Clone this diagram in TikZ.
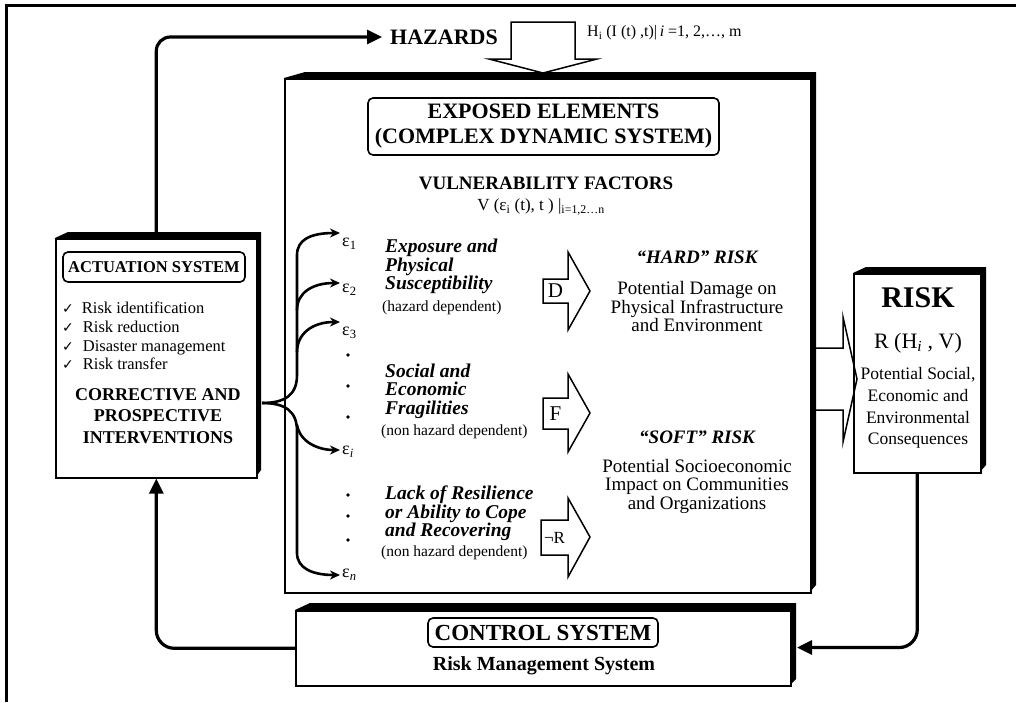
\documentclass[tikz,border=0pt]{standalone}
\usepackage{fontspec}
\setmainfont{Liberation Serif}
\newfontfamily\symfont{DejaVu Sans}
\usetikzlibrary{arrows.meta}
\newcommand\fsz[2]{\fontsize{#1}{#2}\selectfont}
\begin{document}
\begin{tikzpicture}[x=1pt,y=-1pt,
  conn/.style={line width=3.2pt,-{Triangle[length=15pt,width=14pt]}},
  econn/.style={line width=2.6pt,-{Stealth[length=10pt,width=9pt]}},
  band/.style={fill=black},
  boxline/.style={draw,line width=1.6pt,inner sep=0pt,anchor=north west},
  hollow/.style={draw,line width=1.5pt,fill=white,line join=miter},
  rbox/.style={draw,line width=1.6pt,rounded corners=5pt,inner sep=3pt},
  dotn/.style={circle,fill,inner sep=1.3pt},
  txt/.style={inner sep=0pt},
]
\path[use as bounding box] (0,0) rectangle (1016,702);
% outer frame (top and left)
\draw[line width=3pt] (6,702) -- (6,5) -- (1016,5);

% ---------- central box ----------
\path[band] (284,78) -- (305,72) -- (816,72) -- (816,585) -- (810,592) -- (810,78) -- cycle;
\node[boxline,minimum width=526pt,minimum height=514pt] (central) at (284,78) {};

% ---------- actuation box ----------
\path[band] (55,238) -- (68,232) -- (261,232) -- (261,470) -- (256,477) -- (256,238) -- cycle;
\node[boxline,minimum width=201pt,minimum height=239pt] (act) at (55,238) {};

% ---------- risk box ----------
\path[band] (853,273) -- (866,267) -- (986,267) -- (986,465) -- (980,472) -- (980,273) -- cycle;
\node[boxline,minimum width=127pt,minimum height=199pt] (risk) at (853,273) {};

% ---------- control box ----------
\path[band] (295,610) -- (310,603) -- (796,603) -- (796,679) -- (790,685) -- (790,610) -- cycle;
\node[boxline,minimum width=495pt,minimum height=75pt] (ctrl) at (295,610) {};
\coordinate (ctrlE) at (797,647.5);

% ---------- hazards ----------
\node[txt,font=\fsz{22}{24}\bfseries] (haz) at (444,37) {HAZARDS};
\draw[hollow] (511,22) -- (575,22) -- (575,59) -- (597,59) -- (543,73) -- (489,59) -- (511,59) -- cycle;
\node[txt,anchor=west,font=\fsz{16}{18}] (hform) at (587,33) {H\textsubscript{i} (I (t) ,t)|\,\textit{i} =1, 2,…, m};

% ---------- loops ----------
\draw[conn,rounded corners=14pt,shorten >=8pt] (act.north) |- (haz.west);
\draw[conn,rounded corners=18pt] (ctrl.west) -| (act.south);
\draw[conn,rounded corners=18pt] (risk.south) |- (ctrlE);

% ---------- central contents ----------
\node[rbox,minimum width=351pt,minimum height=57pt,align=center,font=\fsz{22}{25}\bfseries] (exposed) at (543.5,126.5) {EXPOSED ELEMENTS\\(COMPLEX DYNAMIC SYSTEM)};
\node[txt,font=\fsz{19}{20}\bfseries] (vf) at (546,183) {VULNERABILITY FACTORS};
\node[txt,font=\fsz{17}{19}] (vform) at (541,207) {V (ε\textsubscript{i} (t), t ) |\textsubscript{i=1,2…n}};

% epsilon labels
\node[txt,anchor=west,font=\fsz{18}{19}] (e1) at (342,244) {ε\textsubscript{1}};
\node[txt,anchor=west,font=\fsz{18}{19}] (e2) at (342,290) {ε\textsubscript{2}};
\node[txt,anchor=west,font=\fsz{18}{19}] (e3) at (342,333) {ε\textsubscript{3}};
\node[txt,anchor=west,font=\fsz{18}{19}] (ei) at (342,452) {ε\textsubscript{\itshape i}};
\node[txt,anchor=west,font=\fsz{18}{19}] (en) at (342,575) {ε\textsubscript{\itshape n}};
\node[dotn] (d1) at (348,355) {};
\node[dotn] (d2) at (348,386) {};
\node[dotn] (d3) at (348,417) {};
\node[dotn] (d4) at (348,495) {};
\node[dotn] (d5) at (348,516) {};
\node[dotn] (d6) at (348,540) {};
\coordinate (t1) at (340,233);
\coordinate (t2) at (340,283);
\coordinate (t3) at (340,322);
\coordinate (ti) at (340,450);
\coordinate (tn) at (340,575);
\coordinate (src) at (262,403);

% brace of arrows
\draw[econn] (src) .. controls (285,403) and (297,395) .. (297,375) -- (297,255) .. controls (297,240) and (310,233) .. (t1);
\draw[econn] (297,310) .. controls (297,293) and (312,283) .. (t2);
\draw[econn] (297,352) .. controls (297,334) and (312,322) .. (t3);
\draw[econn] (src) .. controls (285,403) and (297,411) .. (297,431) -- (297,553) .. controls (297,568) and (312,575) .. (tn);
\draw[econn] (297,425) .. controls (300,442) and (318,450) .. (ti);

% factor texts
\node[txt,anchor=west,align=left,font=\fsz{19.5}{18.5}\bfseries\itshape] (g1) at (385,266.5) {Exposure and\\Physical\\Susceptibility};
\node[txt,anchor=west,font=\fsz{15.5}{17}] (h1) at (382,308) {(hazard dependent)};
\node[txt,anchor=west,align=left,font=\fsz{19.5}{18.5}\bfseries\itshape] (g2) at (385,391) {Social and\\Economic\\Fragilities};
\node[txt,anchor=west,font=\fsz{15.5}{17}] (h2) at (381,432) {(non hazard dependent)};
\node[txt,anchor=west,align=left,font=\fsz{19.5}{18.5}\bfseries\itshape] (g3) at (385,513.5) {Lack of Resilience\\or Ability to Cope\\and Recovering};
\node[txt,anchor=west,font=\fsz{15.5}{17}] (h3) at (381,553) {(non hazard dependent)};

% block arrows
\draw[hollow] (543,279) -- (568,279) -- (568,252) -- (590,291) -- (568,330) -- (568,303) -- (543,303) -- cycle;
\node[txt,font=\fsz{21}{21}] (dl) at (555.5,291) {D};
\draw[hollow] (543,398) -- (568,398) -- (568,374) -- (590,413) -- (568,452) -- (568,429) -- (543,429) -- cycle;
\node[txt,font=\fsz{21}{21}] (fl) at (555.5,413.5) {F};
\draw[hollow] (541,520) -- (568,520) -- (568,498) -- (590,537) -- (568,577) -- (568,555) -- (541,555) -- cycle;
\node[txt,font=\fsz{17}{20}] (rl) at (554.5,537.5) {¬R};

% risk texts
\node[txt,font=\fsz{19}{20}\bfseries\itshape] (hard) at (697,257) {“HARD” RISK};
\node[txt,align=center,font=\fsz{19}{18.5}] (hardt) at (697,306.5) {Potential Damage on\\Physical Infrastructure\\and Environment};
\node[txt,font=\fsz{19}{20}\bfseries\itshape] (soft) at (697,437) {“SOFT” RISK};
\node[txt,align=center,font=\fsz{19}{18.5}] (softt) at (697,486) {Potential Socioeconomic\\Impact on Communities\\and Organizations};

% arrow to risk
\draw[line width=1.5pt,line join=miter] (central.east |- 0,348) -- (843,348) -- (843,317) -- (857,379) -- (843,442) -- (843,410) -- (central.east |- 0,410);

% ---------- risk box contents ----------
\node[txt,font=\fsz{30}{32}\bfseries] (risktitle) at (918,298) {RISK};
\node[txt,font=\fsz{22}{24}] (rform) at (918,343) {R (H\textsubscript{\itshape i} , V)};
\node[txt,align=center,font=\fsz{17.5}{21.7}] (cons) at (918,408) {Potential Social,\\Economic and\\Environmental\\Consequences};

% ---------- actuation contents ----------
\node[rbox,minimum width=182pt,minimum height=30pt,font=\fsz{16.5}{18}\bfseries] (actlabel) at (154,267) {ACTUATION SYSTEM};
\node[txt,anchor=west,align=left,font=\fsz{16.5}{18.7}] (list) at (62,336) {{\symfont\fsz{14}{14}✓}\hspace{8pt}Risk identification\\{\symfont\fsz{14}{14}✓}\hspace{9pt}Risk reduction\\{\symfont\fsz{14}{14}✓}\hspace{9pt}Disaster management\\{\symfont\fsz{14}{14}✓}\hspace{9pt}Risk transfer};
\node[txt,align=center,font=\fsz{18}{21.5}\bfseries] (corr) at (158,416) {CORRECTIVE AND\\PROSPECTIVE\\INTERVENTIONS};

% ---------- control contents ----------
\node[rbox,minimum width=230pt,minimum height=29pt,font=\fsz{23}{25}\bfseries] (ctrllabel) at (543,632.5) {CONTROL SYSTEM};
\node[txt,font=\fsz{20}{22}\bfseries] (rms) at (544,666) {Risk Management System};
\end{tikzpicture}
\end{document}
